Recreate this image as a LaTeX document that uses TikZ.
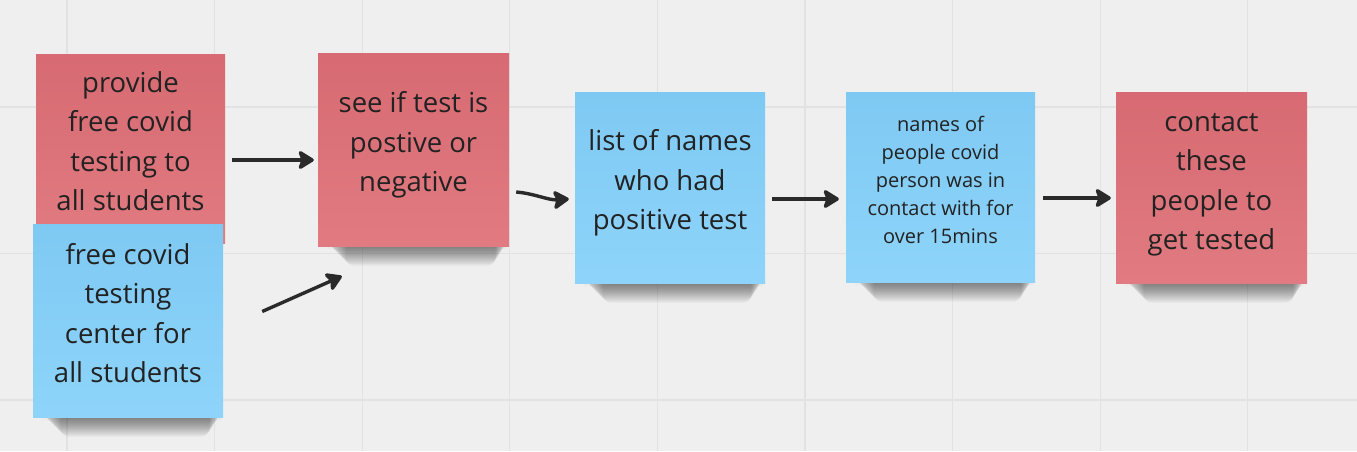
\documentclass[tikz,border=0pt]{standalone}
\usepackage{fontspec}
\setmainfont{Open Sans}
\usetikzlibrary{arrows.meta}
\definecolor{bgc}{HTML}{EFEFEF}
\definecolor{gridc}{HTML}{E2E2E2}
\definecolor{redtop}{RGB}{215,106,114}
\definecolor{redbot}{RGB}{225,123,129}
\definecolor{bluetop}{RGB}{126,201,243}
\definecolor{bluebot}{RGB}{142,212,250}
\definecolor{inkc}{HTML}{222222}
\definecolor{arrc}{HTML}{2A2A2A}
\tikzset{
  note/.style={inner sep=0pt, align=center, text=inkc, font=\fontsize{27.5}{39.5}\selectfont},
  rednote/.style={note, top color=redtop, bottom color=redbot},
  bluenote/.style={note, top color=bluetop, bottom color=bluebot},
  smalltext/.style={font=\fontsize{20}{28}\selectfont},
  arr/.style={draw=arrc, line width=3.4pt, -{Stealth[length=18pt,width=22pt,inset=4pt,round]}},
}
% text lifted a little above the note's centre
\newcommand\nt[1]{\raisebox{5pt}[\height][\depth]{\begin{tabular}{@{}c@{}}#1\end{tabular}}}
% soft shadow under a note: left x, right x, bottom y
\newcommand\noteshadow[3]{%
  \foreach \d in {1,...,18}{%
    \fill[black,opacity=0.032,rounded corners=8pt]
      (#1+8+1.1*\d, #3-4) rectangle (#2-1-0.7*\d, #3+1.1*\d);}}
\begin{document}
\begin{tikzpicture}[x=1pt,y=-1pt]
\fill[bgc] (0,0) rectangle (1357,451);
\useasboundingbox (0,0) rectangle (1357,451);
% grid
\foreach \gx in {67,214.6,362.2,509.8,657.4,805,952.6,1100.2,1247.8}
  \draw[gridc, line width=1.2pt] (\gx,0) -- (\gx,451);
\foreach \gy in {107,253.5,400}
  \draw[gridc, line width=1.2pt] (0,\gy) -- (1357,\gy);
% notes
\noteshadow{36}{225}{243}
\node[rednote, minimum width=189pt, minimum height=189pt] (r1) at (130.5,148.5)
  {\nt{provide\\free covid\\testing to\\all students}};
\noteshadow{33}{223}{417}
\node[bluenote, minimum width=190pt, minimum height=193pt] (b1) at (128,320.5)
  {\nt{free covid\\testing\\center for\\all students}};
\noteshadow{318}{509}{246}
\node[rednote, minimum width=191pt, minimum height=193pt] (r2) at (413.5,149.5)
  {\nt{see if test is\\postive or\\negative}};
\noteshadow{575}{765}{283}
\node[bluenote, minimum width=190pt, minimum height=191pt] (b2) at (670,187.5)
  {\nt{list of names\\who had\\positive test}};
\noteshadow{846}{1035}{282}
\node[bluenote, smalltext, minimum width=189pt, minimum height=190pt] (b3) at (940.5,187)
  {\nt{names of\\people covid\\person was in\\contact with for\\over 15mins}};
\noteshadow{1116}{1307}{283}
\node[rednote, minimum width=191pt, minimum height=191pt] (r3) at (1211.5,187.5)
  {\nt{contact\\these\\people to\\get tested}};
% connectors
\draw[arr] ([xshift=7pt,yshift=-11.5pt]r1.east) -- ([xshift=-4pt,yshift=-10.5pt]r2.west);
\draw[arr] ([xshift=39pt,yshift=9pt]b1.east) -- ([xshift=24pt,yshift=-30pt]r2.south west);
\draw[arr] ([xshift=7pt,yshift=-42.5pt]r2.east) .. controls ([xshift=25pt,yshift=-44pt]r2.east) and ([xshift=-26pt,yshift=-13pt]b2.west) .. ([xshift=-6pt,yshift=-11.5pt]b2.west);
\draw[arr] ([xshift=7pt,yshift=-11.5pt]b2.east) -- ([xshift=-7pt,yshift=-12pt]b3.west);
\draw[arr] ([xshift=8pt,yshift=-11pt]b3.east) -- ([xshift=-5pt,yshift=-10.5pt]r3.west);
\end{tikzpicture}
\end{document}
